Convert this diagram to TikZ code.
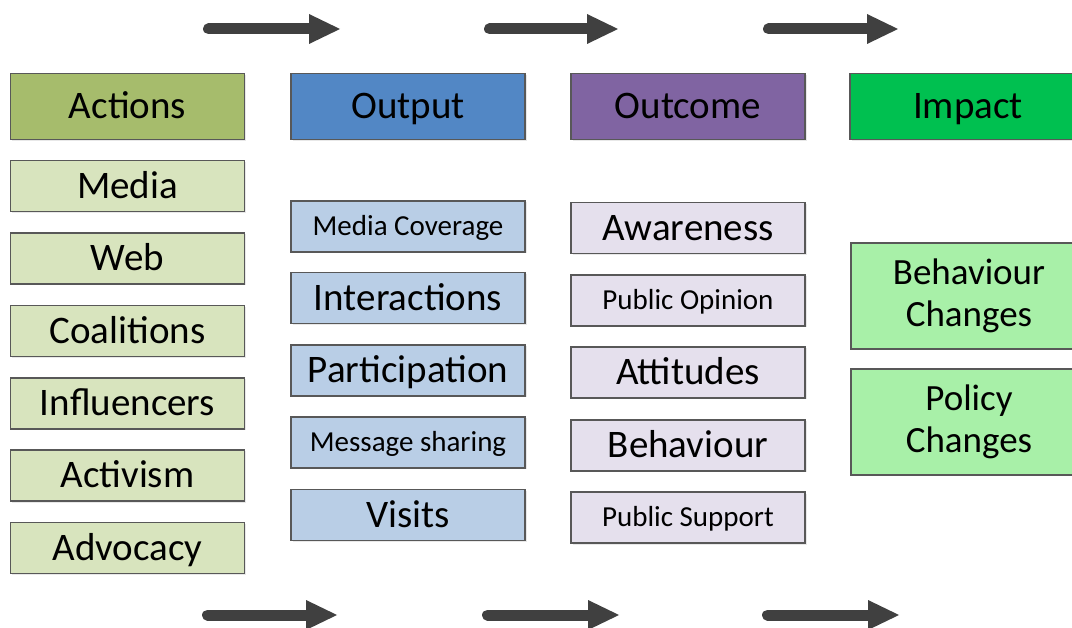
\documentclass[tikz,border=0pt]{standalone}
\usepackage{fontspec}
\setmainfont{Carlito}
\usetikzlibrary{arrows.meta,shadows}

\definecolor{boxline}{RGB}{88,88,88}
\definecolor{arrowgrey}{RGB}{64,64,64}
\definecolor{actHead}{RGB}{166,188,108}
\definecolor{actItem}{RGB}{216,228,190}
\definecolor{outHead}{RGB}{82,135,197}
\definecolor{outItem}{RGB}{185,206,230}
\definecolor{ocHead}{RGB}{128,100,162}
\definecolor{ocItem}{RGB}{229,224,237}
\definecolor{impHead}{RGB}{0,192,80}
\definecolor{impItem}{RGB}{168,240,168}

\tikzset{
    basebox/.style={draw=boxline, line width=1.2pt, inner sep=0pt, minimum width=234pt,
        drop shadow={shadow xshift=1.5pt, shadow yshift=-1.5pt, opacity=0.18}},
    headbox/.style={basebox, minimum height=66pt, text height=25pt, text depth=0pt,
        font=\fontsize{39}{44}\selectfont},
    itembox/.style={basebox, minimum height=51pt, text height=25pt, text depth=0pt,
        font=\fontsize{39}{44}\selectfont},
    smalltext/.style={text height=18.7pt, font=\fontsize{29}{34}\selectfont},
    impactbox/.style={basebox, minimum height=106pt, align=center,
        font=\fontsize{37}{42}\selectfont},
    flowarrow/.style={draw=arrowgrey, line width=11pt, line cap=round,
        -{Triangle[length=31pt,width=30pt,line width=0pt]}}
}

\begin{document}
\begin{tikzpicture}[x=1pt, y=-1pt]
    \clip (0,0) rectangle (1072,628);
    \fill[white] (0,0) rectangle (1072,628);

    % column heads
    \node[headbox, fill=actHead] (actions) at (127.5,106.5) {Actions};
    \node[headbox, fill=outHead] (output)  at (408,106.5)   {Output};
    \node[headbox, fill=ocHead]  (outcome) at (688,106.5)   {Outcome};
    \node[headbox, fill=impHead, minimum width=236pt] (impact) at (968,106.5) {Impact};

    % actions
    \node[itembox, fill=actItem] (media)       at (127.5,186)   {Media};
    \node[itembox, fill=actItem] (web)         at (127.5,258.5) {Web};
    \node[itembox, fill=actItem] (coalitions)  at (127.5,331)   {Coalitions};
    \node[itembox, fill=actItem] (influencers) at (127.5,403.5) {Influencers};
    \node[itembox, fill=actItem] (activism)    at (127.5,475.5) {Activism};
    \node[itembox, fill=actItem] (advocacy)    at (127.5,548)   {Advocacy};

    % output
    \node[itembox, smalltext, fill=outItem] (coverage) at (408,226.5) {Media Coverage};
    \node[itembox, fill=outItem] (interactions)        at (408,298)   {Interactions};
    \node[itembox, fill=outItem] (participation)       at (408,370.5) {Participation};
    \node[itembox, smalltext, fill=outItem] (sharing)  at (408,442.5) {Message sharing};
    \node[itembox, fill=outItem] (visits)              at (408,515)   {Visits};

    % outcome
    \node[itembox, fill=ocItem] (awareness)           at (688,228)   {Awareness};
    \node[itembox, smalltext, fill=ocItem] (opinion)  at (688,300.5) {Public Opinion};
    \node[itembox, fill=ocItem] (attitudes)           at (688,372.5) {Attitudes};
    \node[itembox, fill=ocItem] (behaviour)           at (688,445.5) {Behaviour};
    \node[itembox, smalltext, fill=ocItem] (support)  at (688,517.5) {Public Support};

    % impact
    \node[impactbox, fill=impItem, minimum width=236pt] (bchanges) at (969,296) {Behaviour\\Changes};
    \node[impactbox, fill=impItem, minimum width=236pt] (pchanges) at (969,422) {Policy\\Changes};

    % flow arrows
    \coordinate (top1a) at (208.5,29); \coordinate (top1b) at (340,29);
    \coordinate (top2a) at (489.5,29); \coordinate (top2b) at (618,29);
    \coordinate (top3a) at (768.5,29); \coordinate (top3b) at (898,29);
    \coordinate (bot1a) at (207.5,615); \coordinate (bot1b) at (337,615);
    \coordinate (bot2a) at (487.5,615); \coordinate (bot2b) at (619,615);
    \coordinate (bot3a) at (767.5,615); \coordinate (bot3b) at (899,615);
    \draw[flowarrow] (top1a) -- (top1b);
    \draw[flowarrow] (top2a) -- (top2b);
    \draw[flowarrow] (top3a) -- (top3b);
    \draw[flowarrow] (bot1a) -- (bot1b);
    \draw[flowarrow] (bot2a) -- (bot2b);
    \draw[flowarrow] (bot3a) -- (bot3b);
\end{tikzpicture}
\end{document}
